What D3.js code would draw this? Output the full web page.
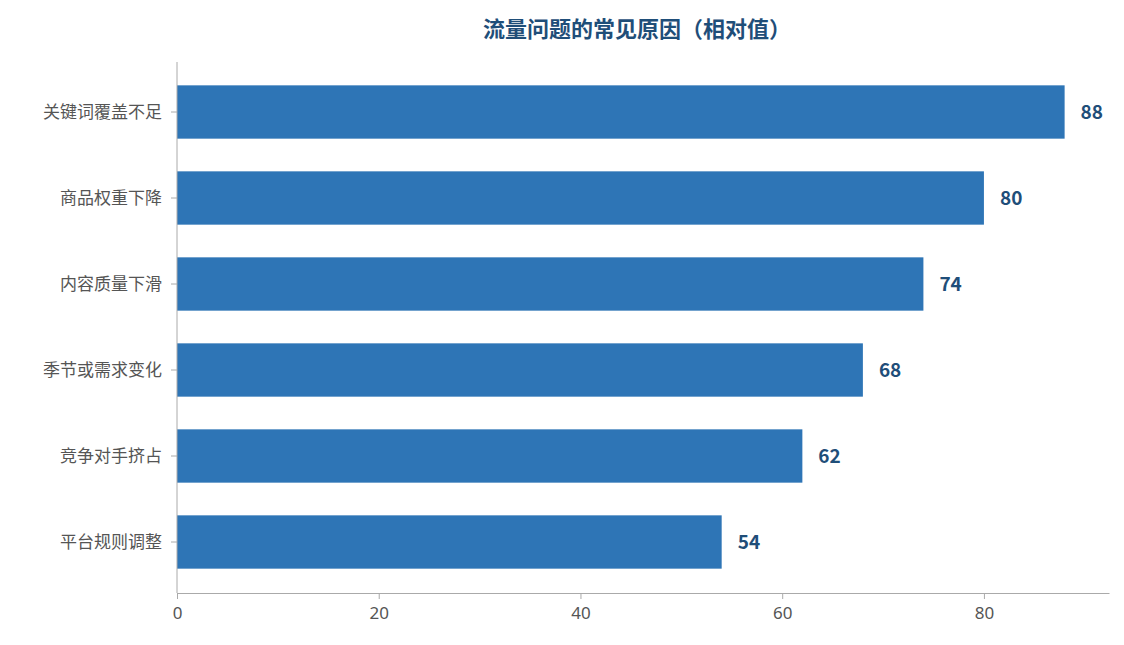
<!DOCTYPE html>
<html><head><meta charset="utf-8">
<script src="https://cdn.jsdelivr.net/npm/d3@7"></script>
<style>body{margin:0;background:#fff;font-family:"Noto Sans CJK SC","Noto Sans",sans-serif;}</style>
</head><body><svg id="c" width="1124" height="645"></svg>
<script>
const categories = ["关键词覆盖不足", "商品权重下降", "内容质量下滑", "季节或需求变化", "竞争对手挤占", "平台规则调整"];
const values = [88, 80, 74, 68, 62, 54];
const xTicks = [0, 20, 40, 60, 80];

const svg = d3.select("#c");
const x = d3.scaleLinear().domain([0, 92.4]).range([177, 1109]);
const y = d3.scaleBand().domain(categories).range([69, 585]).paddingInner(0.38).paddingOuter(0.19);

svg.append("text").attr("x", 637).attr("y", 37).attr("text-anchor", "middle")
  .attr("font-size", 22).attr("font-weight", "bold").attr("fill", "#1f4e79")
  .text("流量问题的常见原因（相对值）");

svg.selectAll("rect.bar").data(values).enter().append("rect")
  .attr("x", x(0)).attr("y", (d, i) => y(categories[i]))
  .attr("width", d => x(d) - x(0)).attr("height", y.bandwidth())
  .attr("fill", "#2e75b6");

svg.selectAll("text.val").data(values).enter().append("text")
  .attr("x", d => x(d) + 16).attr("y", (d, i) => y(categories[i]) + y.bandwidth() / 2)
  .attr("dy", "0.35em").attr("font-size", 19).attr("font-weight", "bold").attr("fill", "#1f4e79")
  .text(d => d);

const xa = svg.append("g").attr("transform", "translate(0,593)")
  .call(d3.axisBottom(x).tickValues(xTicks).tickSize(6).tickSizeOuter(0));
xa.select(".domain").attr("stroke", "#aaa");
xa.selectAll(".tick line").attr("stroke", "#aaa");
xa.selectAll("text").attr("font-size", 17).attr("fill", "#555").attr("dy", "1em")
  .style("font-family", "'Noto Sans','Noto Sans CJK SC',sans-serif");

svg.append("line").attr("x1", 177).attr("x2", 177).attr("y1", 62).attr("y2", 593).attr("stroke", "#aaa");
svg.selectAll("text.cat").data(categories).enter().append("text")
  .attr("x", 162).attr("y", d => y(d) + y.bandwidth() / 2).attr("dy", "0.35em")
  .attr("text-anchor", "end").attr("font-size", 17).attr("fill", "#555").text(d => d);
svg.selectAll("line.yt").data(categories).enter().append("line")
  .attr("x1", 171).attr("x2", 177).attr("y1", d => y(d) + y.bandwidth() / 2)
  .attr("y2", d => y(d) + y.bandwidth() / 2).attr("stroke", "#aaa");
</script></body></html>
